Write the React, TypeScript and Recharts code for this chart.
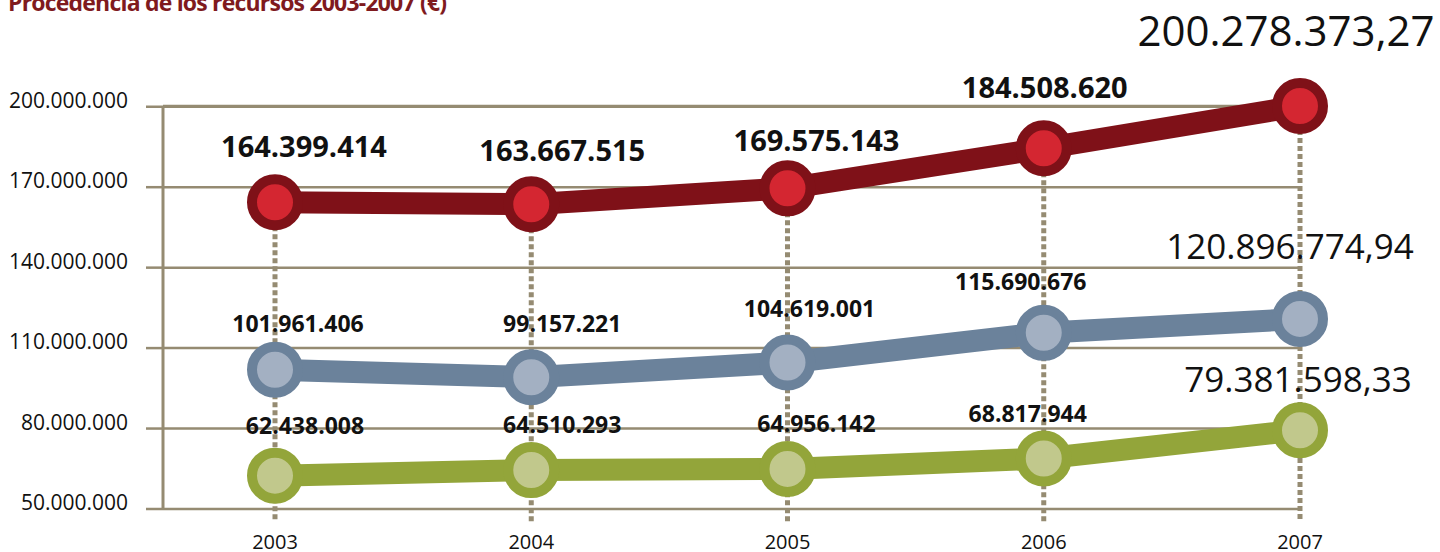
import { LineChart, Line, XAxis, YAxis, CartesianGrid, LabelList } from "recharts";

// data
const years = ["2003", "2004", "2005", "2006", "2007"];
const red = [164399414, 163667515, 169575143, 184508620, 200278373.27];
const blue = [101961406, 99157221, 104619001, 115690676, 120896774.94];
const green = [62438008, 64510293, 64956142, 68817944, 79381598.33];
const yTicks = [50000000, 80000000, 110000000, 140000000, 170000000, 200000000];

const data = years.map((year, i) => ({ year, red: red[i], blue: blue[i], green: green[i] }));

// layout
const W = 1440;
const H = 552;
const X_AXIS_H = 43;
const MARGIN = { top: 106, right: 140, bottom: 0, left: 0 };
const PLOT_BOTTOM = H - X_AXIS_H;
const FONT = "'Open Sans', sans-serif";
const GRID = "#958b72";

// label nudges (dx, baseline offset from the point)
const redLabelPos = [[29, -45], [31, -43], [29, -37], [1, -50], [-14, -60]];
const blueLabelPos = [[23, -38], [31, -45], [22, -46], [-23, -43], [-10, -60]];
const greenLabelPos = [[30, -42], [31, -37], [29, -37], [-16, -37], [-2, -38]];

function fmt(v: number, decimals = 0) {
  const [int, dec] = v.toFixed(decimals).split(".");
  const withDots = int.replace(/\B(?=(\d{3})+(?!\d))/g, ".");
  return dec ? `${withDots},${dec}` : withDots;
}

function makeLabel(pos: number[][], size: number, lastSize: number) {
  return (props: any) => {
    const { index, value } = props;
    const x = props.x ?? props.viewBox?.x;
    const y = props.y ?? props.viewBox?.y;
    const last = index === years.length - 1;
    const [dx, dy] = pos[index];
    return (
      <text
        x={x + dx}
        y={y + dy}
        textAnchor="middle"
        fontFamily={FONT}
        fontSize={last ? lastSize : size}
        fontWeight={last ? 400 : 700}
        fill="#111"
      >
        {last ? fmt(value, 2) : fmt(value)}
      </text>
    );
  };
}

function DropLine(props: any) {
  const { cx, cy } = props;
  return (
    <line
      x1={cx}
      x2={cx}
      y1={cy}
      y2={PLOT_BOTTOM + 13}
      stroke={GRID}
      strokeWidth={5}
      strokeDasharray="5 3"
    />
  );
}

function YTick({ x, y, payload }: any) {
  return (
    <text x={x} y={y + 1} textAnchor="end" fontFamily={FONT} fontSize={21} fill="#111">
      {fmt(payload.value)}
    </text>
  );
}

function XTick({ x, y, payload }: any) {
  return (
    <text x={x} y={y + 40} textAnchor="middle" fontFamily={FONT} fontSize={20} fill="#111">
      {payload.value}
    </text>
  );
}

const series = [
  { key: "red", line: "#7f1118", inner: "#d42631", pos: redLabelPos, size: 29, lastSize: 42 },
  { key: "blue", line: "#6b829b", inner: "#a3b0c2", pos: blueLabelPos, size: 23, lastSize: 35 },
  { key: "green", line: "#93a53a", inner: "#c1c88c", pos: greenLabelPos, size: 23, lastSize: 35 },
];

export default function App() {
  return (
    <div style={{ position: "absolute", left: 0, top: 0, width: W, height: H, background: "#fff" }}>
      <div
        style={{
          position: "absolute",
          left: 8,
          top: -11,
          fontFamily: FONT,
          fontWeight: 700,
          fontSize: 23,
          letterSpacing: -0.8,
          lineHeight: "26px",
          color: "#7f1a1e",
          whiteSpace: "nowrap",
        }}
      >
        Procedencia de los recursos 2003-2007 (€)
      </div>
      <LineChart width={W} height={H} data={data} margin={MARGIN}>
        <CartesianGrid vertical={false} stroke={GRID} strokeWidth={2.5} />
        <XAxis
          dataKey="year"
          padding={{ left: 112, right: 0 }}
          axisLine={false}
          tickLine={false}
          tickSize={0}
          tickMargin={0}
          height={X_AXIS_H}
          tick={<XTick />}
        />
        <YAxis
          domain={[50000000, 200000000]}
          ticks={yTicks}
          width={163}
          axisLine={{ stroke: GRID, strokeWidth: 3 }}
          tickLine={{ stroke: GRID, strokeWidth: 2.5 }}
          tickSize={17}
          tickMargin={18}
          tick={<YTick />}
        />
        <Line
          dataKey="red"
          stroke="none"
          dot={<DropLine />}
          activeDot={false}
          legendType="none"
          isAnimationActive={false}
        />
        {series.map((s) => (
          <Line
            key={s.key}
            type="linear"
            dataKey={s.key}
            stroke={s.line}
            strokeWidth={22}
            dot={{ r: 23, strokeWidth: 10, stroke: s.line, fill: s.inner }}
            activeDot={false}
            isAnimationActive={false}
          >
            <LabelList dataKey={s.key} content={makeLabel(s.pos, s.size, s.lastSize)} />
          </Line>
        ))}
      </LineChart>
    </div>
  );
}
